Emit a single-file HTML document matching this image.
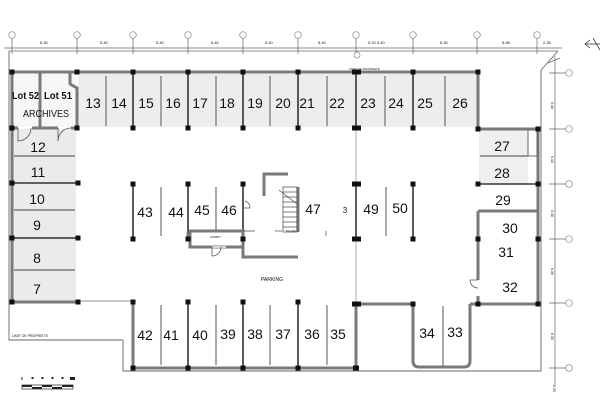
<!DOCTYPE html>
<html><head><meta charset="utf-8"><style>
html,body{margin:0;padding:0;background:#fff;}
svg{display:block;}
text{font-family:"Liberation Sans",sans-serif;fill:#111;}
</style></head><body>
<svg width="600" height="420" viewBox="0 0 600 420" xmlns="http://www.w3.org/2000/svg">
<rect width="600" height="420" fill="#fff"/>
<!-- shading -->
<rect x="78" y="74" width="400" height="53" fill="#ededed"/>
<rect x="13" y="129" width="63" height="172" fill="#ebebeb"/>
<rect x="479" y="130" width="49" height="54" fill="#efefef"/>
<rect x="14" y="74" width="62" height="53" fill="#f7f7f7"/>

<!-- top axis -->
<g stroke="#666" stroke-width="0.7" fill="none">
<line x1="4" y1="48" x2="562" y2="48"/>
<line x1="9" y1="51" x2="558" y2="51"/>
<polyline points="558,51 541,70 541,371 123,371 123,340 9,340 9,51" stroke="#666" stroke-width="0.9"/>
<line x1="78" y1="301" x2="133" y2="301" stroke="#777"/>
<g stroke="#888">
<circle cx="12" cy="35" r="3.3"/><circle cx="77" cy="35" r="3.3"/><circle cx="133" cy="35" r="3.3"/>
<circle cx="188" cy="35" r="3.3"/><circle cx="243" cy="35" r="3.3"/><circle cx="298" cy="35" r="3.3"/>
<circle cx="356" cy="35" r="3.3"/><circle cx="413" cy="35" r="3.3"/><circle cx="477" cy="35" r="3.3"/>
<circle cx="537" cy="35" r="3.3"/><circle cx="357" cy="55" r="3"/>
</g>
<g>
<line x1="12" y1="38" x2="12" y2="54"/><line x1="77" y1="38" x2="77" y2="54"/><line x1="133" y1="38" x2="133" y2="54"/>
<line x1="188" y1="38" x2="188" y2="54"/><line x1="243" y1="38" x2="243" y2="54"/><line x1="298" y1="38" x2="298" y2="54"/>
<line x1="356" y1="38" x2="356" y2="52"/><line x1="413" y1="38" x2="413" y2="54"/><line x1="477" y1="38" x2="477" y2="54"/>
<line x1="537" y1="38" x2="537" y2="54"/>
</g>
<!-- right axis -->
<line x1="555" y1="56" x2="555" y2="385"/>
<g stroke="#888">
<circle cx="569" cy="73" r="3.3"/><circle cx="569" cy="129" r="3.3"/><circle cx="569" cy="184" r="3.3"/>
<circle cx="569" cy="239" r="3.3"/><circle cx="569" cy="303" r="3.3"/><circle cx="569" cy="368" r="3.3"/>
</g>
<line x1="549" y1="73" x2="566" y2="73"/><line x1="549" y1="129" x2="566" y2="129"/><line x1="549" y1="184" x2="566" y2="184"/>
<line x1="549" y1="239" x2="566" y2="239"/><line x1="549" y1="303" x2="566" y2="303"/><line x1="549" y1="368" x2="566" y2="368"/>
<line x1="548" y1="63" x2="560" y2="58"/>
</g>
<g font-size="4" fill="#333">
<text x="40" y="44">6.30</text><text x="100" y="44">5.40</text><text x="156" y="44">5.40</text>
<text x="211" y="44">5.40</text><text x="265" y="44">5.40</text><text x="318" y="44">5.40</text>
<text x="368" y="44">0.20 5.40</text><text x="440" y="44">6.30</text><text x="502" y="44">5.88</text><text x="543" y="44">2.35</text>
</g>
<g font-size="3.5" fill="#444">
<text x="551" y="102" transform="rotate(90 551 102)">5.40</text>
<text x="551" y="156" transform="rotate(90 551 156)">5.40</text>
<text x="551" y="210" transform="rotate(90 551 210)">5.40</text>
<text x="551" y="268" transform="rotate(90 551 268)">6.30</text>
<text x="551" y="333" transform="rotate(90 551 333)">6.30</text>
<text x="553" y="385" transform="rotate(90 553 385)">0.35</text>
</g>
<!-- north arrow -->
<g stroke="#333" stroke-width="0.8" fill="none">
<line x1="585" y1="44" x2="600" y2="44"/>
<polyline points="590,40 585,44 590,48"/>
<line x1="593" y1="38" x2="600" y2="50"/>
</g>

<!-- thin stall dividers -->
<g stroke="#444" stroke-width="0.9">
<line x1="106" y1="76" x2="106" y2="126"/><line x1="161" y1="76" x2="161" y2="126"/>
<line x1="216" y1="76" x2="216" y2="126"/><line x1="270" y1="76" x2="270" y2="126"/>
<line x1="327" y1="76" x2="327" y2="126"/><line x1="385" y1="76" x2="385" y2="126"/>
<line x1="445" y1="76" x2="445" y2="126"/>
<line x1="14" y1="156" x2="75" y2="156"/><line x1="14" y1="210" x2="75" y2="210"/><line x1="14" y1="270" x2="75" y2="270"/>
<line x1="161" y1="187" x2="161" y2="236"/><line x1="216" y1="187" x2="216" y2="230"/>
<line x1="386" y1="187" x2="386" y2="236"/>
<line x1="161" y1="305" x2="161" y2="365"/><line x1="216" y1="305" x2="216" y2="365"/>
<line x1="270" y1="305" x2="270" y2="365"/><line x1="327" y1="305" x2="327" y2="365"/>
<line x1="443" y1="306" x2="443" y2="366"/>
<line x1="480" y1="156" x2="528" y2="156"/>
<line x1="356" y1="128" x2="356" y2="304" stroke="#999" stroke-width="0.8"/>
</g>
<!-- medium column lines -->
<g stroke="#333" stroke-width="1.6">
<line x1="133" y1="72" x2="133" y2="128"/><line x1="188" y1="72" x2="188" y2="128"/>
<line x1="243" y1="72" x2="243" y2="128"/><line x1="298" y1="72" x2="298" y2="128"/>
<line x1="356" y1="72" x2="356" y2="128"/><line x1="413" y1="72" x2="413" y2="128"/>
<line x1="12" y1="183" x2="78" y2="183"/><line x1="12" y1="238" x2="78" y2="238"/>
<line x1="133" y1="184" x2="133" y2="239"/><line x1="188" y1="184" x2="188" y2="239"/>
<line x1="243" y1="184" x2="243" y2="239"/><line x1="356" y1="184" x2="356" y2="239"/>
<line x1="413" y1="184" x2="413" y2="239"/>
<line x1="188" y1="302" x2="188" y2="368"/><line x1="243" y1="302" x2="243" y2="368"/>
<line x1="298" y1="302" x2="298" y2="368"/>
<line x1="478" y1="184" x2="538" y2="184"/>
</g>
<!-- thick walls -->
<g stroke="#7a7a7a" stroke-width="3" fill="none" stroke-linejoin="miter">
<polyline points="12,72 478,72 478,129 538,129 538,304 470,304"/>
<path d="M470,304 L470,361 Q470,367 464,367 L419,367 Q413,367 413,361 L413,304 L356,304 L356,368 L133,368 L133,302"/>
<polyline points="78,302 12,302 12,72"/>
<line x1="40" y1="72" x2="40" y2="128"/>
<polyline points="70,72 70,84 77,88 77,128"/>
<line x1="12" y1="128" x2="18" y2="128"/><line x1="32" y1="128" x2="58" y2="128"/><line x1="71" y1="128" x2="78" y2="128"/>
<polyline points="478,211 538,211"/>
<polyline points="478,211 478,280"/><line x1="478" y1="296" x2="478" y2="304"/>
<polyline points="243,239 243,257 298,257"/>
<polyline points="264,196 264,174 288,174"/>
<line x1="298" y1="187" x2="298" y2="232"/>
<rect x="190" y="231" width="53" height="16"/>
<line x1="188" y1="233" x2="188" y2="239"/>
</g>
<g stroke="#fff" stroke-width="1.4"><line x1="212" y1="247" x2="226" y2="247"/></g>
<!-- small box at right of 27 -->
<rect x="528" y="130" width="9" height="26" fill="#fff" stroke="#666" stroke-width="1"/>
<!-- doors -->
<g stroke="#555" stroke-width="0.8" fill="none">
<path d="M18,128 L18,141 A13,13 0 0 0 31,128"/>
<path d="M58,128 L58,141 A13,13 0 0 1 71,128"/>
<path d="M478,280 L470,280 A8,8 0 0 0 478,288"/>
<path d="M212,247 L212,256 A9,9 0 0 0 221,247"/>
<path d="M243,208 L250,208 A7,7 0 0 0 245,201"/>
<line x1="243" y1="231" x2="255" y2="231"/>
</g>
<!-- stairs -->
<g stroke="#444" stroke-width="0.7" fill="none">
<rect x="283" y="187" width="14" height="45"/>
<line x1="283" y1="192" x2="297" y2="192"/><line x1="283" y1="197" x2="297" y2="197"/>
<line x1="283" y1="202" x2="297" y2="202"/><line x1="283" y1="207" x2="297" y2="207"/>
<line x1="283" y1="212" x2="297" y2="212"/><line x1="283" y1="217" x2="297" y2="217"/>
<line x1="283" y1="222" x2="297" y2="222"/><line x1="283" y1="227" x2="297" y2="227"/>
<line x1="279" y1="190" x2="297" y2="204"/>
<line x1="275" y1="231" x2="282" y2="231"/>
<line x1="326" y1="231" x2="326" y2="236"/>
</g>
<!-- columns -->
<g fill="#111">
<rect x="9.5" y="69.5" width="5" height="5"/><rect x="74.5" y="69.5" width="5" height="5"/>
<rect x="130.5" y="69.5" width="5" height="5"/><rect x="185.5" y="69.5" width="5" height="5"/>
<rect x="240.5" y="69.5" width="5" height="5"/><rect x="295.5" y="69.5" width="5" height="5"/>
<rect x="352" y="69.5" width="9" height="5"/><rect x="410.5" y="69.5" width="5" height="5"/>
<rect x="475.5" y="69.5" width="5" height="5"/>
<rect x="9.5" y="125.5" width="5" height="5"/><rect x="74.5" y="125.5" width="5" height="5"/>
<rect x="130.5" y="125.5" width="5" height="5"/><rect x="185.5" y="125.5" width="5" height="5"/>
<rect x="240.5" y="125.5" width="5" height="5"/><rect x="295.5" y="125.5" width="5" height="5"/>
<rect x="352" y="125.5" width="9" height="5"/><rect x="410.5" y="125.5" width="5" height="5"/>
<rect x="475.5" y="126.5" width="5" height="5"/><rect x="535.5" y="126.5" width="5" height="5"/>
<rect x="9.5" y="180.5" width="5" height="5"/><rect x="75.5" y="180.5" width="5" height="5"/>
<rect x="130.5" y="181.5" width="5" height="5"/><rect x="185.5" y="181.5" width="5" height="5"/>
<rect x="240.5" y="181.5" width="5" height="5"/><rect x="352" y="181.5" width="9" height="5"/>
<rect x="410.5" y="181.5" width="5" height="5"/><rect x="475.5" y="181.5" width="5" height="5"/>
<rect x="535.5" y="181.5" width="5" height="5"/>
<rect x="9.5" y="235.5" width="5" height="5"/><rect x="75.5" y="235.5" width="5" height="5"/>
<rect x="130.5" y="236.5" width="5" height="5"/><rect x="185.5" y="236.5" width="5" height="5"/>
<rect x="240.5" y="236.5" width="5" height="5"/><rect x="352" y="236.5" width="9" height="5"/>
<rect x="410.5" y="236.5" width="5" height="5"/><rect x="475.5" y="236.5" width="5" height="5"/>
<rect x="535.5" y="236.5" width="5" height="5"/>
<rect x="9.5" y="299.5" width="5" height="5"/><rect x="75.5" y="299.5" width="5" height="5"/>
<rect x="130.5" y="299.5" width="5" height="5"/><rect x="185.5" y="299.5" width="5" height="5"/>
<rect x="240.5" y="299.5" width="5" height="5"/><rect x="295.5" y="299.5" width="5" height="5"/>
<rect x="352" y="301.5" width="9" height="5"/><rect x="410.5" y="301.5" width="5" height="5"/>
<rect x="475.5" y="301.5" width="5" height="5"/><rect x="535.5" y="301.5" width="5" height="5"/>
<rect x="130.5" y="365.5" width="5" height="5"/><rect x="185.5" y="365.5" width="5" height="5"/>
<rect x="240.5" y="365.5" width="5" height="5"/><rect x="295.5" y="365.5" width="5" height="5"/>
<rect x="353" y="365.5" width="6" height="5"/>
</g>

<!-- labels -->
<g font-size="14" text-anchor="middle">
<text x="93" y="108">13</text><text x="119" y="108">14</text><text x="146" y="108">15</text>
<text x="173" y="108">16</text><text x="200" y="108">17</text><text x="227" y="108">18</text>
<text x="255" y="108">19</text><text x="283" y="108">20</text><text x="307" y="108">21</text>
<text x="337" y="108">22</text><text x="368" y="108">23</text><text x="396" y="108">24</text>
<text x="425" y="108">25</text><text x="460" y="108">26</text>
<text x="38" y="152">12</text><text x="38" y="177">11</text><text x="37" y="204">10</text>
<text x="37" y="230">9</text><text x="37" y="263">8</text><text x="37" y="294">7</text>
<text x="145" y="217">43</text><text x="176" y="217">44</text><text x="202" y="215">45</text>
<text x="229" y="215">46</text><text x="313" y="214">47</text><text x="371" y="214">49</text>
<text x="400" y="213">50</text>
<text x="145" y="340">42</text><text x="171" y="340">41</text><text x="200" y="340">40</text>
<text x="228" y="339">39</text><text x="255" y="339">38</text><text x="283" y="339">37</text>
<text x="312" y="339">36</text><text x="338" y="339">35</text>
<text x="427" y="338">34</text><text x="455" y="337">33</text>
<text x="502" y="151">27</text><text x="502" y="178">28</text><text x="503" y="205">29</text>
<text x="510" y="233">30</text><text x="506" y="257">31</text><text x="510" y="292">32</text>
</g>
<text x="345" y="213" font-size="8" text-anchor="middle">3</text>
<g font-size="10" font-weight="bold" fill="#222">
<text x="12" y="99" textLength="27" lengthAdjust="spacingAndGlyphs">Lot 52</text>
<text x="44" y="99" textLength="28" lengthAdjust="spacingAndGlyphs">Lot 51</text>
<text x="23" y="117" textLength="46" lengthAdjust="spacingAndGlyphs" font-weight="normal">ARCHIVES</text>
</g>
<text x="272" y="281" font-size="5" text-anchor="middle">PARKING</text>
<text x="12" y="337" font-size="3.5">LIMIT DE PROPRIETE</text>
<text x="210" y="238" font-size="3">COMPT</text>
<text x="286" y="232" font-size="3">PALIER</text>
<text x="349" y="70" font-size="3">LIMIT DE PROPRIETE</text>

<!-- scale bar -->
<g stroke="#222" stroke-width="0.7" fill="#fff">
<rect x="22" y="385" width="51" height="4"/>
</g>
<g fill="#222">
<rect x="22" y="385" width="10" height="2"/><rect x="32" y="387" width="10" height="2"/>
<rect x="42" y="385" width="10" height="2"/><rect x="52" y="387" width="10" height="2"/>
<rect x="62" y="385" width="11" height="2"/>
<rect x="21.5" y="377" width="1" height="3"/><rect x="31.5" y="377" width="2" height="2"/>
<rect x="41.5" y="377" width="2" height="2"/><rect x="51.5" y="377" width="2" height="2"/>
<rect x="61.5" y="377" width="2" height="2"/><rect x="70" y="377" width="5" height="3"/>
</g>
</svg>
</body></html>
